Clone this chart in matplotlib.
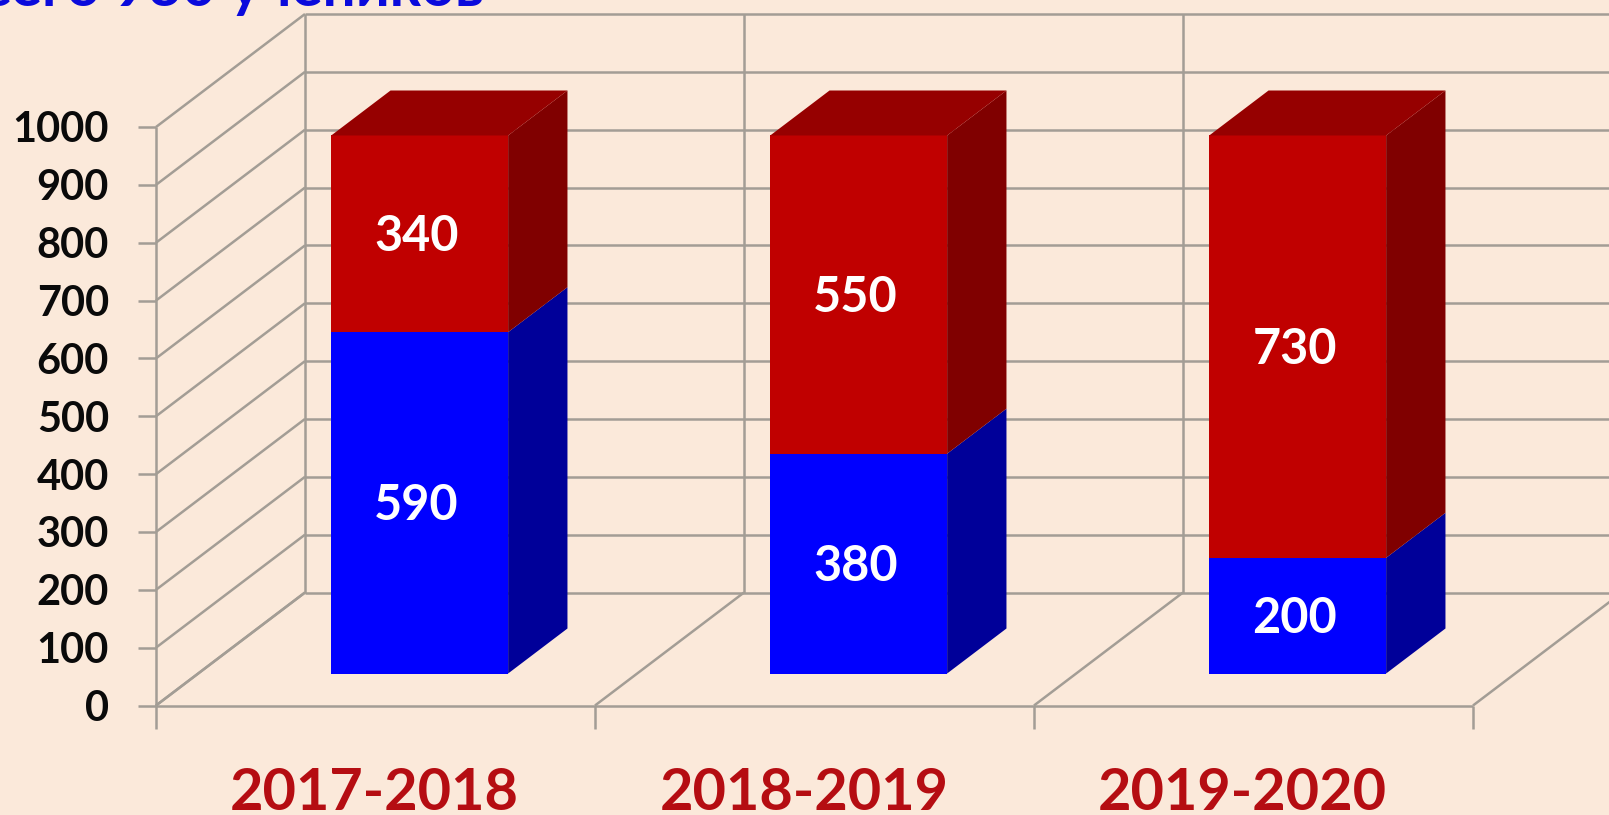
import matplotlib
matplotlib.use('Agg')
from matplotlib import pyplot as plt

# данные диаграммы
years = ['2017-2018', '2018-2019', '2019-2020']
blue_vals = [590, 380, 200]
red_vals = [340, 550, 730]
y_ticks = [0, 100, 200, 300, 400, 500, 600, 700, 800, 900, 1000]
title = 'Всего 930 учеников'

BG = '#FBE9DA'
GRID = '#A39D95'
W, H = 1609, 815

CAT = 439          # ширина категории, px
UNIT = 0.5785      # px на единицу значения
Y0 = 705.5

# смещение задней стенки (косая проекция)
DX = 149 / CAT
DY = 113 / UNIT
D0, D1 = 32 / 113, 77 / 113
BAR_L, BAR_W = 0.303, 0.403
# сдвиг подписей лет от середины категории, px
YEAR_SHIFT = [-1, -10, -11]


def pr(x, y, d):
    return x + d * DX, y + d * DY


def poly(ax, pts, color, z):
    xs, ys = zip(*pts)
    ax.fill(xs, ys, color=color, lw=0, zorder=z)


def line(ax, p, q, z=1):
    ax.plot([p[0], q[0]], [p[1], q[1]], color=GRID, lw=1.8, zorder=z, solid_capstyle='butt')


plt.rcParams['font.family'] = ['Lato', 'DejaVu Sans']
fig = plt.figure(figsize=(W / 100, H / 100), dpi=100, facecolor=BG)
ax = fig.add_axes([0, 0, 1, 1])
ax.set_xlim(-156 / CAT, (W - 156) / CAT)
ax.set_ylim(-(H - Y0) / UNIT, Y0 / UNIT)
ax.axis('off')

n = len(years)

# стенки и сетка
for v in y_ticks:
    line(ax, pr(0, v, 0), pr(0, v, 1))
    line(ax, pr(0, v, 1), pr(n, v, 1))
    line(ax, (-18 / CAT, v), (0, v))
    ax.text(-47 / CAT, v, str(v), ha='right', va='center_baseline', fontsize=30,
            fontweight='bold', color='#0A0A0A')
line(ax, (0, 0), (0, 1000))
line(ax, (0, 0), (n, 0))
for i in range(n + 1):
    line(ax, pr(i, 0, 0), pr(i, 0, 1))
    line(ax, pr(i, 0, 1), pr(i, 1000, 1))
    line(ax, (i, 0), (i, -23 / UNIT))

# столбцы
for i in range(n):
    left = i + BAR_L
    right = left + BAR_W
    segs = [(0, blue_vals[i], '#0000FF', '#000099'),
            (blue_vals[i], blue_vals[i] + red_vals[i], '#C00000', '#800000')]
    for lo, hi, front, side in segs:
        poly(ax, [pr(right, lo, D0), pr(right, lo, D1), pr(right, hi, D1), pr(right, hi, D0)], side, 3)
        poly(ax, [pr(left, lo, D0), pr(right, lo, D0), pr(right, hi, D0), pr(left, hi, D0)], front, 4)
        x, y = pr((left + right) / 2, (lo + hi) / 2, D0)
        ax.text(x - 3 / CAT, y + 1 / UNIT, str(hi - lo), ha='center', va='center_baseline', fontsize=35,
                fontweight='bold', color='white', zorder=6)
    top = blue_vals[i] + red_vals[i]
    poly(ax, [pr(left, top, D0), pr(right, top, D0), pr(right, top, D1), pr(left, top, D1)], '#960000', 5)
    ax.text(i + 0.5 + YEAR_SHIFT[i] / CAT, -(789 - Y0) / UNIT, years[i], ha='center', va='center_baseline',
            fontsize=41.5, fontweight='bold', color='#B50D12')

# заголовок обрезан верхним краем, как на исходной картинке
ax.text(-212 / CAT, (Y0 - 6) / UNIT, title, ha='left', va='baseline', fontsize=42,
        fontweight='bold', color='#0A0ADC')

fig.savefig('out.png', dpi=100, facecolor=BG)
